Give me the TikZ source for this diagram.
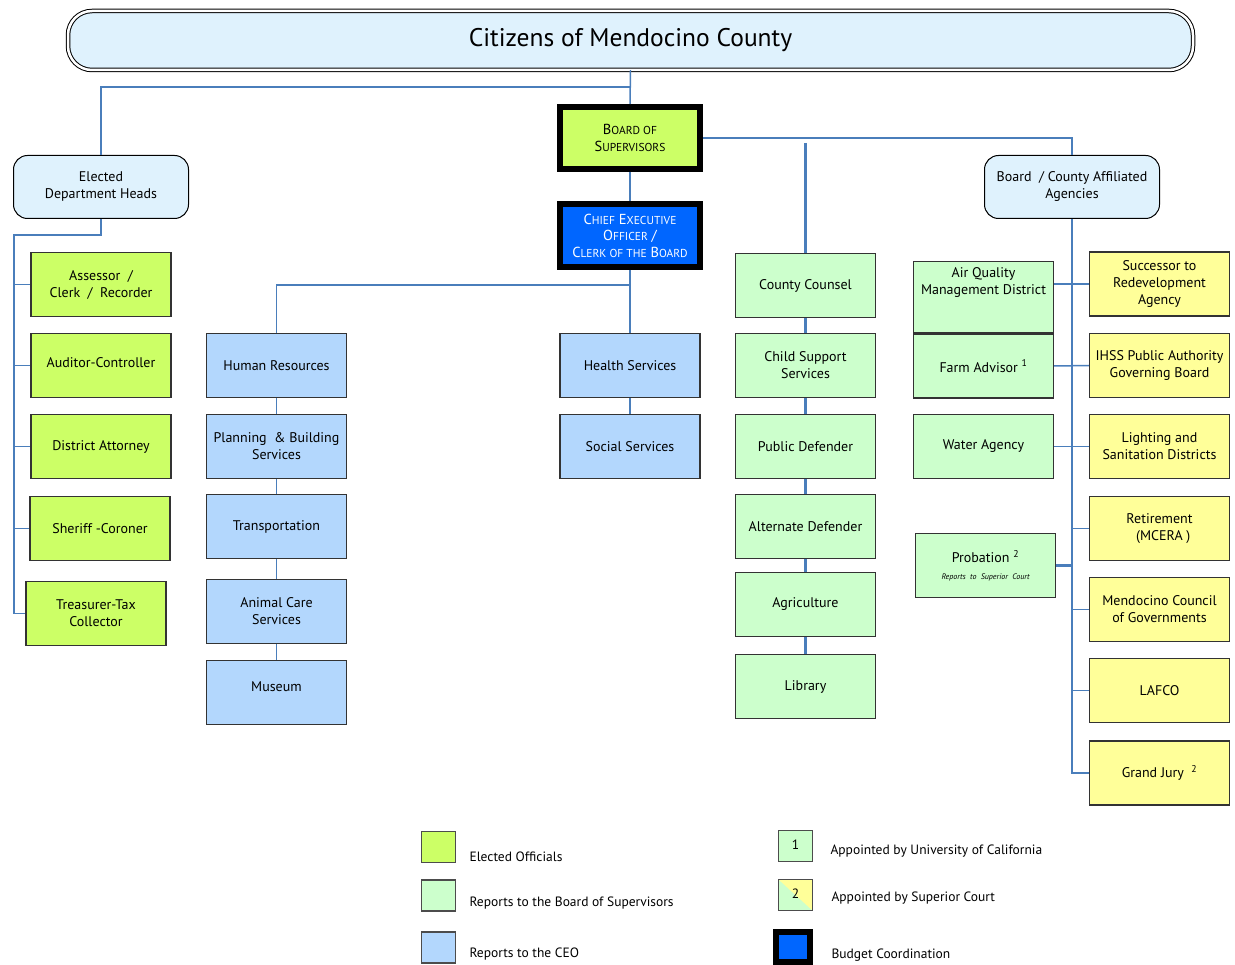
\documentclass[tikz,border=0pt]{standalone}
\usepackage{fontspec}
\setmainfont{PT Sans}
\usetikzlibrary{positioning}

\definecolor{titlefill}{HTML}{DFF2FD}
\definecolor{electfill}{HTML}{CCFF66}
\definecolor{boardfill}{HTML}{CCFFCC}
\definecolor{ceofill}{HTML}{B3D7FD}
\definecolor{agencyfill}{HTML}{FFFF99}
\definecolor{budgetfill}{HTML}{0066FF}
\definecolor{linkblue}{HTML}{4A7EBB}

\newcommand{\smc}[1]{{\fontsize{11.5}{13}\selectfont #1}}

\begin{document}
\begin{tikzpicture}[x=1pt,y=-1pt,
  box node/.style={draw=black!80,line width=1.1pt,minimum width=140pt,minimum height=64pt,inner sep=2pt,align=center,font=\fontsize{14}{17}\selectfont},
  elect node/.style={box node,fill=electfill},
  board node/.style={box node,fill=boardfill},
  ceo node/.style={box node,fill=ceofill},
  agency node/.style={box node,fill=agencyfill},
  head node/.style={draw,line width=1pt,rounded corners=14pt,fill=titlefill,minimum width=175pt,minimum height=63pt,align=center,font=\fontsize{14}{17}\selectfont},
  top node/.style={draw,line width=6pt,minimum width=140pt,minimum height=62pt,inner sep=1pt,align=center,font=\fontsize{14.5}{16.5}\selectfont},
  link/.style={draw=linkblue,line width=1.5pt},
  key node/.style={draw=black!70,line width=1.2pt,minimum width=34pt,minimum height=31pt,inner sep=0pt,font=\fontsize{13.5}{15}\selectfont},
  key text/.style={anchor=west,font=\fontsize{13.5}{15}\selectfont}]

  \useasboundingbox (0,0) rectangle (1235,965);

  % citizens, board and CEO
  \node[draw,double=white,double distance=2.5pt,line width=1pt,rounded corners=24pt,fill=titlefill,
        minimum width=1125pt,minimum height=59pt,font=\fontsize{25.5}{28}\selectfont] (citizens) at (630.5,40.5) {Citizens of Mendocino County\hspace{24pt}};
  \node[top node,fill=electfill] (bos) at (630,138) {B\smc{OARD OF}\\S\smc{UPERVISORS}};
  \node[top node,fill=budgetfill,text=white,minimum height=63pt] (ceo) at (630,235.5) {C\smc{HIEF} E\smc{XECUTIVE}\\O\smc{FFICER} /\\C\smc{LERK OF THE} B\smc{OARD}};

  \node[head node] (elected) at (101,187) {Elected\\Department Heads};
  \node[head node] (affiliated) at (1072,187) {Board\ \ / County Affiliated\\Agencies};

  % elected department heads
  \node[elect node] (assessor) at (101,284.5) {Assessor\ \ /\\Clerk\ \ /\ \ Recorder};
  \node[elect node] (auditor) at (101,365.5) {\raisebox{5pt}{Auditor-Controller}};
  \node[elect node] (da) at (101,446.5) {District Attorney};
  \node[elect node] (sheriff) at (100,528.5) {Sheriff -Coroner};
  \node[elect node] (treasurer) at (96,613.5) {Treasurer-Tax\\Collector};

  % reports to the CEO
  \node[ceo node] (hr) at (276.5,365.5) {Human Resources};
  \node[ceo node] (planning) at (276.5,446.5) {Planning\ \ \& Building\\Services};
  \node[ceo node] (transport) at (276.5,526.5) {Transportation};
  \node[ceo node] (animal) at (276.5,611.5) {Animal Care\\Services};
  \node[ceo node] (museum) at (276.5,692.5) {\raisebox{12pt}{Museum}};
  \node[ceo node] (health) at (630,365.5) {Health Services};
  \node[ceo node] (social) at (630,446.5) {Social Services};

  % reports to the board
  \node[board node] (counsel) at (805.5,285.5) {County Counsel};
  \node[board node] (child) at (805.5,365.5) {Child Support\\Services};
  \node[board node] (pd) at (805.5,446.5) {Public Defender};
  \node[board node] (altdef) at (805.5,526.5) {Alternate Defender};
  \node[board node] (agri) at (805.5,604.5) {Agriculture};
  \node[board node] (library) at (805.5,686.5) {Library};

  \node[board node,minimum height=71pt] (aqmd) at (983.5,297) {\raisebox{10.5pt}[0pt][0pt]{\begin{tabular}{@{}c@{}}Air Quality\\Management District\end{tabular}}};
  \node[board node] (farm) at (983.5,366) {Farm Advisor \textsuperscript{1}};
  \node[board node] (water) at (983.5,446.5) {Water Agency};
  \node[board node] (probation) at (985.5,565.5) {Probation \textsuperscript{2}\\{\fontsize{8}{10}\selectfont\itshape Reports\ \ to\ \ Superior\ \ Court}};

  % affiliated agencies
  \node[agency node] (successor) at (1159.5,284) {Successor to\\Redevelopment\\Agency};
  \node[agency node] (ihss) at (1159.5,365.5) {IHSS Public Authority\\Governing Board};
  \node[agency node] (lighting) at (1159.5,446.5) {Lighting and\\Sanitation Districts};
  \node[agency node] (retire) at (1159.5,528.5) {Retirement\\\ \ (MCERA )};
  \node[agency node] (council) at (1159.5,609.5) {Mendocino Council\\of Governments};
  \node[agency node] (lafco) at (1159.5,690.5) {LAFCO};
  \node[agency node] (jury) at (1159.5,773) {Grand Jury \ \textsuperscript{2}};

  % legend
  \node[key node,fill=electfill] (keyelect) at (438.5,847) {};
  \node[key text] (keyelecttext) at (466,857) {Elected Officials};
  \node[key node,fill=boardfill] (keyboard) at (438.5,895.5) {};
  \node[key text] (keyboardtext) at (466,903) {Reports to the Board of Supervisors};
  \node[key node,fill=ceofill] (keyceo) at (438.5,947.5) {};
  \node[key text] (keyceotext) at (466,954) {Reports to the CEO};
  \node[key node,fill=boardfill] (keyuc) at (795.5,846) {\raisebox{3pt}{1}};
  \node[key text] (keyuctext) at (827,851) {Appointed by University of California};
  \node[key node,fill=boardfill,path picture={\fill[agencyfill] (path picture bounding box.north west)
        -- (path picture bounding box.north east) -- (path picture bounding box.south east) -- cycle;}] (keycourt) at (795.5,895) {\raisebox{3pt}{2}};
  \node[key text] (keycourttext) at (828,898) {Appointed by Superior Court};
  \node[top node,fill=budgetfill,minimum width=34pt,minimum height=30pt] (keybudget) at (793,947) {};
  \node[key text] (keybudgettext) at (828,955) {Budget Coordination};

  % connectors
  \coordinate (leftspine) at (14,235);
  \coordinate (counseltop) at (805.5,143);

  \draw[link] (citizens.south) -- (bos.north);
  \draw[link] (citizens.south) -- ++(0,16.5) -| (elected.north);
  \draw[link] (bos.south) -- (ceo.north);
  \draw[link] (bos.east) -| (affiliated.north);

  \draw[link] (elected.south) |- (leftspine) |- (treasurer.west);
  \draw[link] (leftspine |- assessor.west) -- (assessor.west);
  \draw[link] (leftspine |- auditor.west) -- (auditor.west);
  \draw[link] (leftspine |- da.west) -- (da.west);
  \draw[link] (leftspine |- sheriff.west) -- (sheriff.west);

  \draw[link] (ceo.south) -- ++(0,15) -| (hr.north);
  \draw[link] (ceo.south) -- (health.north);
  \path[link] (hr) edge (planning) (planning) edge (transport)
    (transport) edge (animal) (animal) edge (museum)
    (health) edge (social);

  \draw[link,line width=2.5pt] (counseltop) -- (counsel.north);
  \path[link,line width=2.5pt] (counsel) edge (child) (child) edge (pd)
    (pd) edge (altdef) (altdef) edge (agri) (agri) edge (library);

  \draw[link] (affiliated.south) |- (jury.west);
  \draw[link] (aqmd.east |- successor.west) -- (successor.west);
  \draw[link] (farm.east) -- (ihss.west);
  \draw[link] (water.east) -- (lighting.west);
  \draw[link] (affiliated.south |- retire.west) -- (retire.west);
  \draw[link,line width=2.5pt] (probation.east) -- (affiliated.south |- probation.east);
  \draw[link] (affiliated.south |- council.west) -- (council.west);
  \draw[link] (affiliated.south |- lafco.west) -- (lafco.west);
\end{tikzpicture}
\end{document}
